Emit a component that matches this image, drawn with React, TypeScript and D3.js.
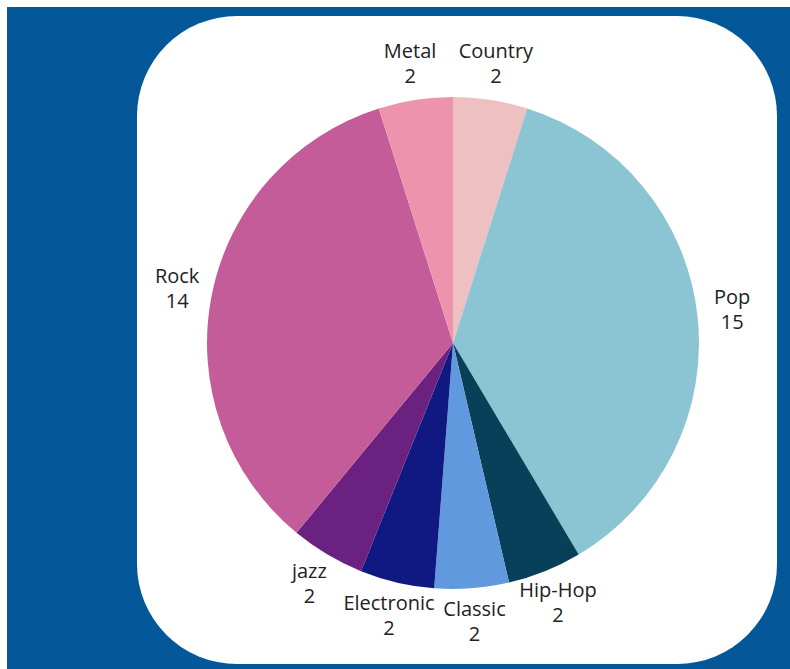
import React, { useEffect, useRef } from 'react';
import * as d3 from 'd3';

const genres = ['Country', 'Pop', 'Hip-Hop', 'Classic', 'Electronic', 'jazz', 'Rock', 'Metal'];
const counts = [2, 15, 2, 2, 2, 2, 14, 2];
const colors = ['#efc0c1', '#8bc4d3', '#083f59', '#6199de', '#101882', '#6b2180', '#c45c9a', '#ee93ad'];

const App: React.FC = () => {
  const svgRef = useRef<SVGSVGElement>(null);

  useEffect(() => {
    if (!svgRef.current) return;
    const width = 790;
    const height = 669;
    const cx = 453;
    const cy = 343;
    const radius = 246;
    const labelR = 281;

    d3.select(svgRef.current).selectAll('*').remove();
    const svg = d3.select(svgRef.current)
      .attr('width', width)
      .attr('height', height);

    // blue backdrop + white rounded card
    svg.append('rect')
      .attr('x', 7).attr('y', 7)
      .attr('width', width - 7).attr('height', height - 7)
      .attr('fill', '#04589a');
    svg.append('rect')
      .attr('x', 137).attr('y', 16)
      .attr('width', 640).attr('height', 648)
      .attr('rx', 100).attr('ry', 100)
      .attr('fill', '#ffffff');

    const data = genres.map((g, i) => ({ genre: g, count: counts[i], color: colors[i] }));

    const pie = d3.pie<{ genre: string; count: number; color: string }>()
      .value(d => d.count)
      .sort(null);
    const arc = d3.arc<d3.PieArcDatum<{ genre: string; count: number; color: string }>>()
      .innerRadius(0)
      .outerRadius(radius);
    const labelArc = d3.arc<d3.PieArcDatum<{ genre: string; count: number; color: string }>>()
      .innerRadius(labelR)
      .outerRadius(labelR);

    const g = svg.append('g').attr('transform', `translate(${cx},${cy})`);
    const arcs = pie(data);

    g.selectAll('path')
      .data(arcs)
      .enter()
      .append('path')
      .attr('d', arc)
      .attr('fill', d => d.data.color);

    const labels = g.selectAll('text.lbl')
      .data(arcs)
      .enter()
      .append('text')
      .attr('class', 'lbl')
      .attr('transform', d => {
        const [x, y] = labelArc.centroid(d);
        return `translate(${x},${y - 3})`;
      })
      .attr('text-anchor', 'middle')
      .attr('font-family', '"Open Sans", sans-serif')
      .attr('font-size', 20)
      .attr('fill', '#222222');

    labels.append('tspan')
      .attr('x', 0)
      .attr('dy', '-0.2em')
      .text(d => d.data.genre);
    labels.append('tspan')
      .attr('x', 0)
      .attr('dy', '1.25em')
      .text(d => String(d.data.count));
  }, []);

  return (
    <div style={{ position: 'absolute', left: 0, top: 0 }}>
      <svg ref={svgRef}></svg>
    </div>
  );
};

export default App;
